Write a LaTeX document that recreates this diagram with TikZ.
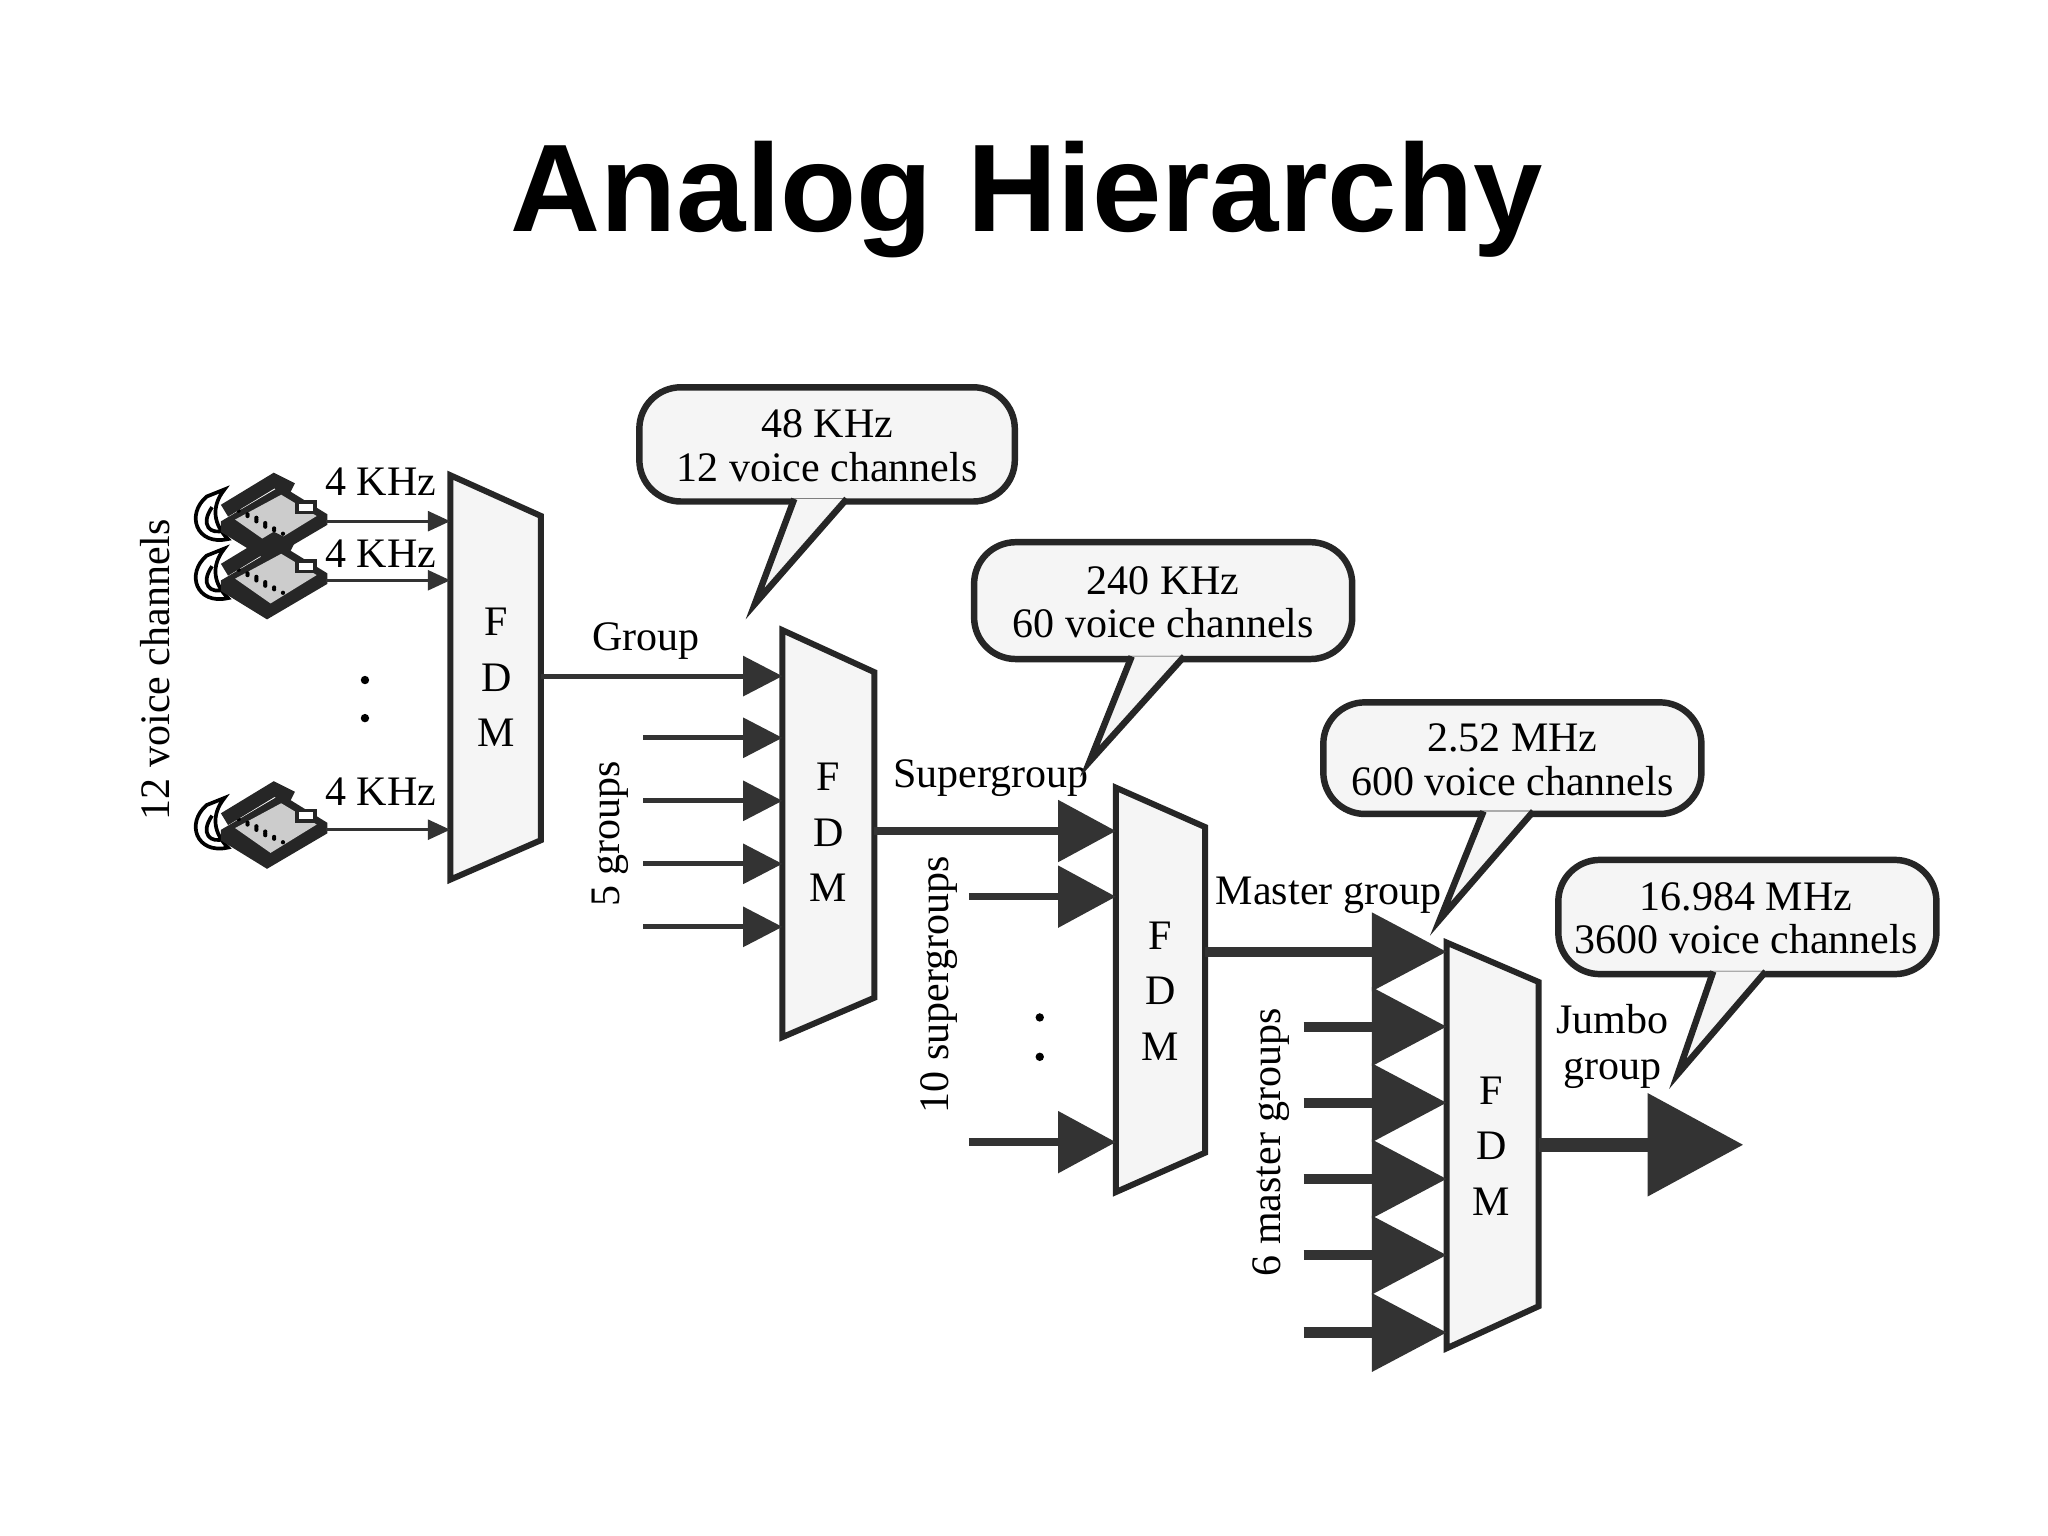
\documentclass[tikz,border=0pt]{standalone}
\usepackage{fontspec}
\setmainfont{Liberation Serif}
\newfontfamily\titlefont{Liberation Sans}
\usetikzlibrary{arrows.meta}
\begin{document}
\begin{tikzpicture}[x=0.01cm,y=-0.01cm,
  lbl/.style={font=\fontsize{9.1}{10}\selectfont,inner sep=0pt},
  fdm/.style={draw=black!85,line width=1.3pt,fill=gray!8},
  call/.style={draw=black!85,line width=1.4pt,fill=gray!8,rounded corners=9},
  a1/.style={draw=black!80,line width=0.7pt,-{Triangle[length=0.17cm,width=0.15cm]}},
  a2/.style={draw=black!80,line width=1.1pt,-{Triangle[length=0.3cm,width=0.3cm]}},
  a3/.style={draw=black!80,line width=1.6pt,-{Triangle[length=0.44cm,width=0.46cm]}},
  a4/.style={draw=black!80,line width=2.2pt,-{Triangle[length=0.57cm,width=0.58cm]}},
  a5/.style={draw=black!80,line width=3pt,-{Triangle[length=0.73cm,width=0.76cm]}},
  phone/.pic={
    \begin{scope}[scale=1.35]
    \draw[line width=0.8pt,fill=white] (-30,-8) .. controls (-42,2) and (-36,20) .. (-18,16) .. controls (-26,8) and (-28,-2) .. (-20,-12) -- cycle;
    \draw[line width=0.8pt] (-27,-2) .. controls (-34,8) and (-28,14) .. (-20,11);
    \fill[black!85] (-22,6) -- (12,-14) -- (38,2) -- (38,8) -- (4,28) -- (-22,12) -- cycle;
    \fill[white!80!black] (-14,5) -- (12,-9) -- (32,3) -- (6,19) -- cycle;
    \foreach \i in {0,1,2,3} \foreach \j in {0,1,2}
      \fill[black] (-2+\i*5-\j*5,4+\i*3+\j*-2) circle (1.2);
    \draw[line width=3pt,black!85] (-20,0) -- (8,-17) -- (18,-12);
    \fill[black!85] (20,-6) rectangle (32,2);
    \fill[white] (22,-4) rectangle (30,0);
    \end{scope}
  }]
\useasboundingbox (0,0) rectangle (1560,1170);
\node[font=\titlefont\bfseries\fontsize{27}{30}\selectfont] (title) at (782,152) {Analog Hierarchy};

% ---- FDM 1
\draw[fdm] (343,362) -- (412,393) -- (412,640) -- (343,670) -- cycle;
\node[lbl,align=center] (f1) at (378,516) {F\\[2pt]D\\[2pt]M};
\coordinate (f1out) at (412,515);
\foreach \y/\n in {397/p1,442/p2,632/p3}{
  \pic at (198,\y-8) {phone};
  \coordinate (\n) at (248,\y);
  \coordinate (\n e) at (343,\y);
  \draw[a1] (\n) -- (\n e);
}
\node[lbl] at (290,367) {4 KHz};
\node[lbl] at (290,422) {4 KHz};
\node[lbl] at (290,603) {4 KHz};
\fill (278,518) circle (3.2) (278,547) circle (3.2);
\node[lbl,rotate=90] (vc) at (118,510) {12 voice channels};

% ---- FDM 2
\draw[fdm] (596,480) -- (666,512) -- (666,760) -- (596,790) -- cycle;
\node[lbl,align=center] (f2) at (631,634) {F\\[2pt]D\\[2pt]M};
\coordinate (g1) at (596,515);
\draw[a2] (f1out) -- (g1);
\node[lbl] at (492,488) {Group};
\foreach \y in {562,610,658,706}{
  \coordinate (s\y) at (490,\y); \coordinate (e\y) at (596,\y);
  \draw[a2] (s\y) -- (e\y);
}
\node[lbl,rotate=90] at (465,635) {5 groups};

% callout 1
\draw[call] (487,295) rectangle (773,382);
\coordinate (c1a) at (605,380); \coordinate (c1b) at (645,380); \coordinate (c1t) at (575,460);
\fill[gray!8] (c1a) -- (c1t) -- (c1b) -- cycle;
\draw[line width=1.4pt,black!85] (c1a) -- (c1t) -- (c1b);
\node[lbl] at (630,323) {48 KHz};
\node[lbl] at (630,356) {12 voice channels};

% ---- FDM 3
\draw[fdm] (850,600) -- (918,630) -- (918,878) -- (850,908) -- cycle;
\node[lbl,align=center] (f3) at (884,755) {F\\[2pt]D\\[2pt]M};
\coordinate (f2out) at (666,633); \coordinate (h1) at (850,633);
\draw[a3] (f2out) -- (h1);
\node[lbl] at (755,593) {Supergroup};
\foreach \y in {683,870}{
  \coordinate (t\y) at (738,\y); \coordinate (u\y) at (850,\y);
  \draw[a3] (t\y) -- (u\y);
}
\fill (792,775) circle (3.2) (792,805) circle (3.2);
\node[lbl,rotate=90] at (715,750) {10 supergroups};

% callout 2
\draw[call] (742,413) rectangle (1030,502);
\coordinate (c2a) at (862,500); \coordinate (c2b) at (902,500); \coordinate (c2t) at (830,580);
\fill[gray!8] (c2a) -- (c2t) -- (c2b) -- cycle;
\draw[line width=1.4pt,black!85] (c2a) -- (c2t) -- (c2b);
\node[lbl] at (886,442) {240 KHz};
\node[lbl] at (886,475) {60 voice channels};

% ---- FDM 4
\draw[fdm] (1102,718) -- (1172,748) -- (1172,995) -- (1102,1027) -- cycle;
\node[lbl,align=center] (f4) at (1136,873) {F\\[2pt]D\\[2pt]M};
\coordinate (f3out) at (918,725); \coordinate (m1) at (1102,725);
\draw[a4] (f3out) -- (m1);
\node[lbl] at (1012,682) {Master group};
\foreach \y in {782,840,898,956,1015}{
  \coordinate (v\y) at (993,\y); \coordinate (w\y) at (1102,\y);
  \draw[a4] (v\y) -- (w\y);
}
\node[lbl,rotate=90] at (968,870) {6 master groups};

% callout 3
\draw[call] (1008,535) rectangle (1296,620);
\coordinate (c3a) at (1130,618); \coordinate (c3b) at (1168,618); \coordinate (c3t) at (1097,700);
\fill[gray!8] (c3a) -- (c3t) -- (c3b) -- cycle;
\draw[line width=1.4pt,black!85] (c3a) -- (c3t) -- (c3b);
\node[lbl] at (1152,562) {2.52 MHz};
\node[lbl] at (1152,595) {600 voice channels};

% ---- Jumbo
\coordinate (f4out) at (1172,872); \coordinate (jend) at (1328,872);
\draw[a5] (f4out) -- (jend);
\node[lbl,align=center] at (1228,797) {Jumbo\\group};

% callout 4
\draw[call] (1187,655) rectangle (1475,742);
\coordinate (c4a) at (1305,740); \coordinate (c4b) at (1345,740); \coordinate (c4t) at (1278,818);
\fill[gray!8] (c4a) -- (c4t) -- (c4b) -- cycle;
\draw[line width=1.4pt,black!85] (c4a) -- (c4t) -- (c4b);
\node[lbl] at (1330,683) {16.984 MHz};
\node[lbl] at (1330,715) {3600 voice channels};
\end{tikzpicture}
\end{document}
